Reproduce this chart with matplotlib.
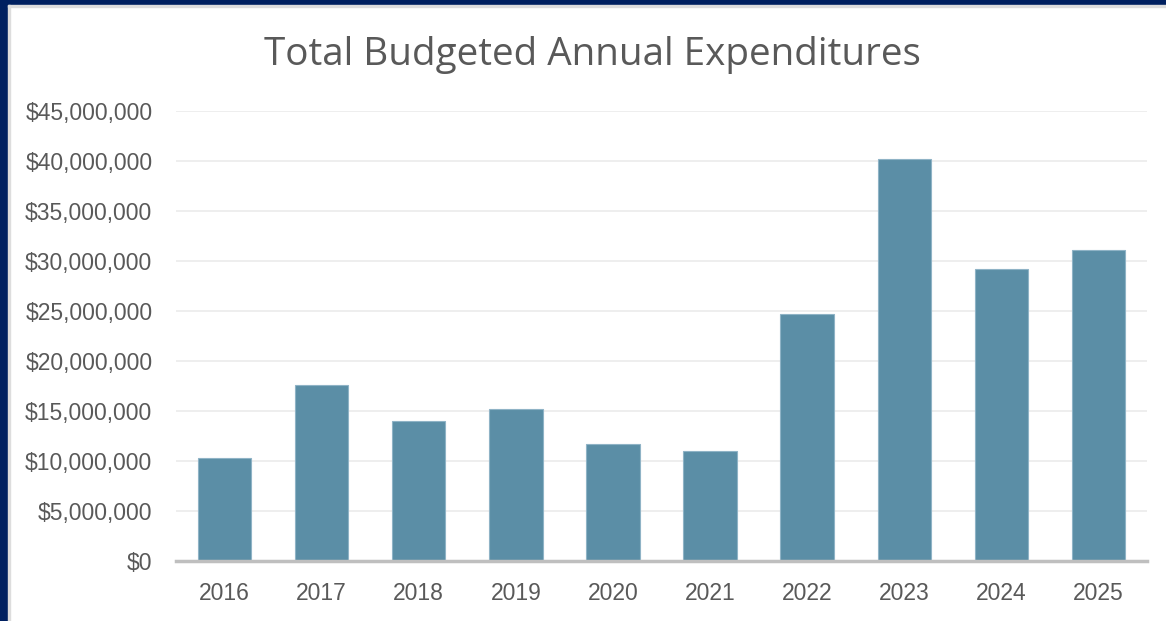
import matplotlib.pyplot as plt
from matplotlib.patches import Rectangle
from matplotlib.ticker import FuncFormatter, MultipleLocator

years = ["2016", "2017", "2018", "2019", "2020", "2021", "2022", "2023", "2024", "2025"]
expenditures = [10.3e6, 17.6e6, 14.0e6, 15.2e6, 11.7e6, 11.0e6, 24.7e6, 40.2e6, 29.2e6, 31.1e6]

text_grey = "#595959"
bar_color = "#5B8EA6"

fig = plt.figure(figsize=(11.66, 6.21), dpi=100)

# navy frame on the left and top edges
fig.patches.append(Rectangle((0, 0), 8 / 1166, 1, transform=fig.transFigure,
                             color="#002060", zorder=0))
fig.patches.append(Rectangle((0, 1 - 5 / 621), 1, 5 / 621, transform=fig.transFigure,
                             color="#002060", zorder=0))
fig.patches.append(Rectangle((8 / 1166, 0), 2 / 1166, 1 - 5 / 621, transform=fig.transFigure,
                             color="#DDDDDD", zorder=0))
fig.patches.append(Rectangle((8 / 1166, 1 - 7 / 621), 1, 2 / 621, transform=fig.transFigure,
                             color="#DDDDDD", zorder=0))

ax = fig.add_axes([176 / 1166, 1 - 561 / 621, 971 / 1166, 450 / 621])

x = range(len(years))
ax.bar(x, expenditures, width=0.55, color=bar_color, edgecolor="#8FB3C6",
       linewidth=0.8, zorder=3)

ax.set_xlim(-0.5, len(years) - 0.5)
ax.set_ylim(0, 45e6)
ax.yaxis.set_major_locator(MultipleLocator(5e6))
ax.yaxis.set_major_formatter(FuncFormatter(lambda v, p: f"${v:,.0f}"))
ax.set_xticks(list(x))
ax.set_xticklabels(years)

ax.grid(axis="y", color="#EBEBEB", linewidth=1.2, zorder=0)
ax.set_axisbelow(True)
for side in ["top", "right", "left"]:
    ax.spines[side].set_visible(False)
ax.spines["bottom"].set_color("#BFBFBF")
ax.spines["bottom"].set_linewidth(2.5)
ax.spines["bottom"].set_zorder(4)

ax.tick_params(axis="both", length=0, labelsize=16.5, labelcolor=text_grey)
ax.tick_params(axis="y", pad=17)
ax.tick_params(axis="x", pad=15)
for lbl in ax.get_xticklabels() + ax.get_yticklabels():
    lbl.set_family("Liberation Sans")

fig.text(592 / 1166, 1 - 65 / 621, "Total Budgeted Annual Expenditures",
         ha="center", va="baseline", fontsize=27.8, color=text_grey, family="Open Sans")

fig.savefig("out.png", dpi=100)
